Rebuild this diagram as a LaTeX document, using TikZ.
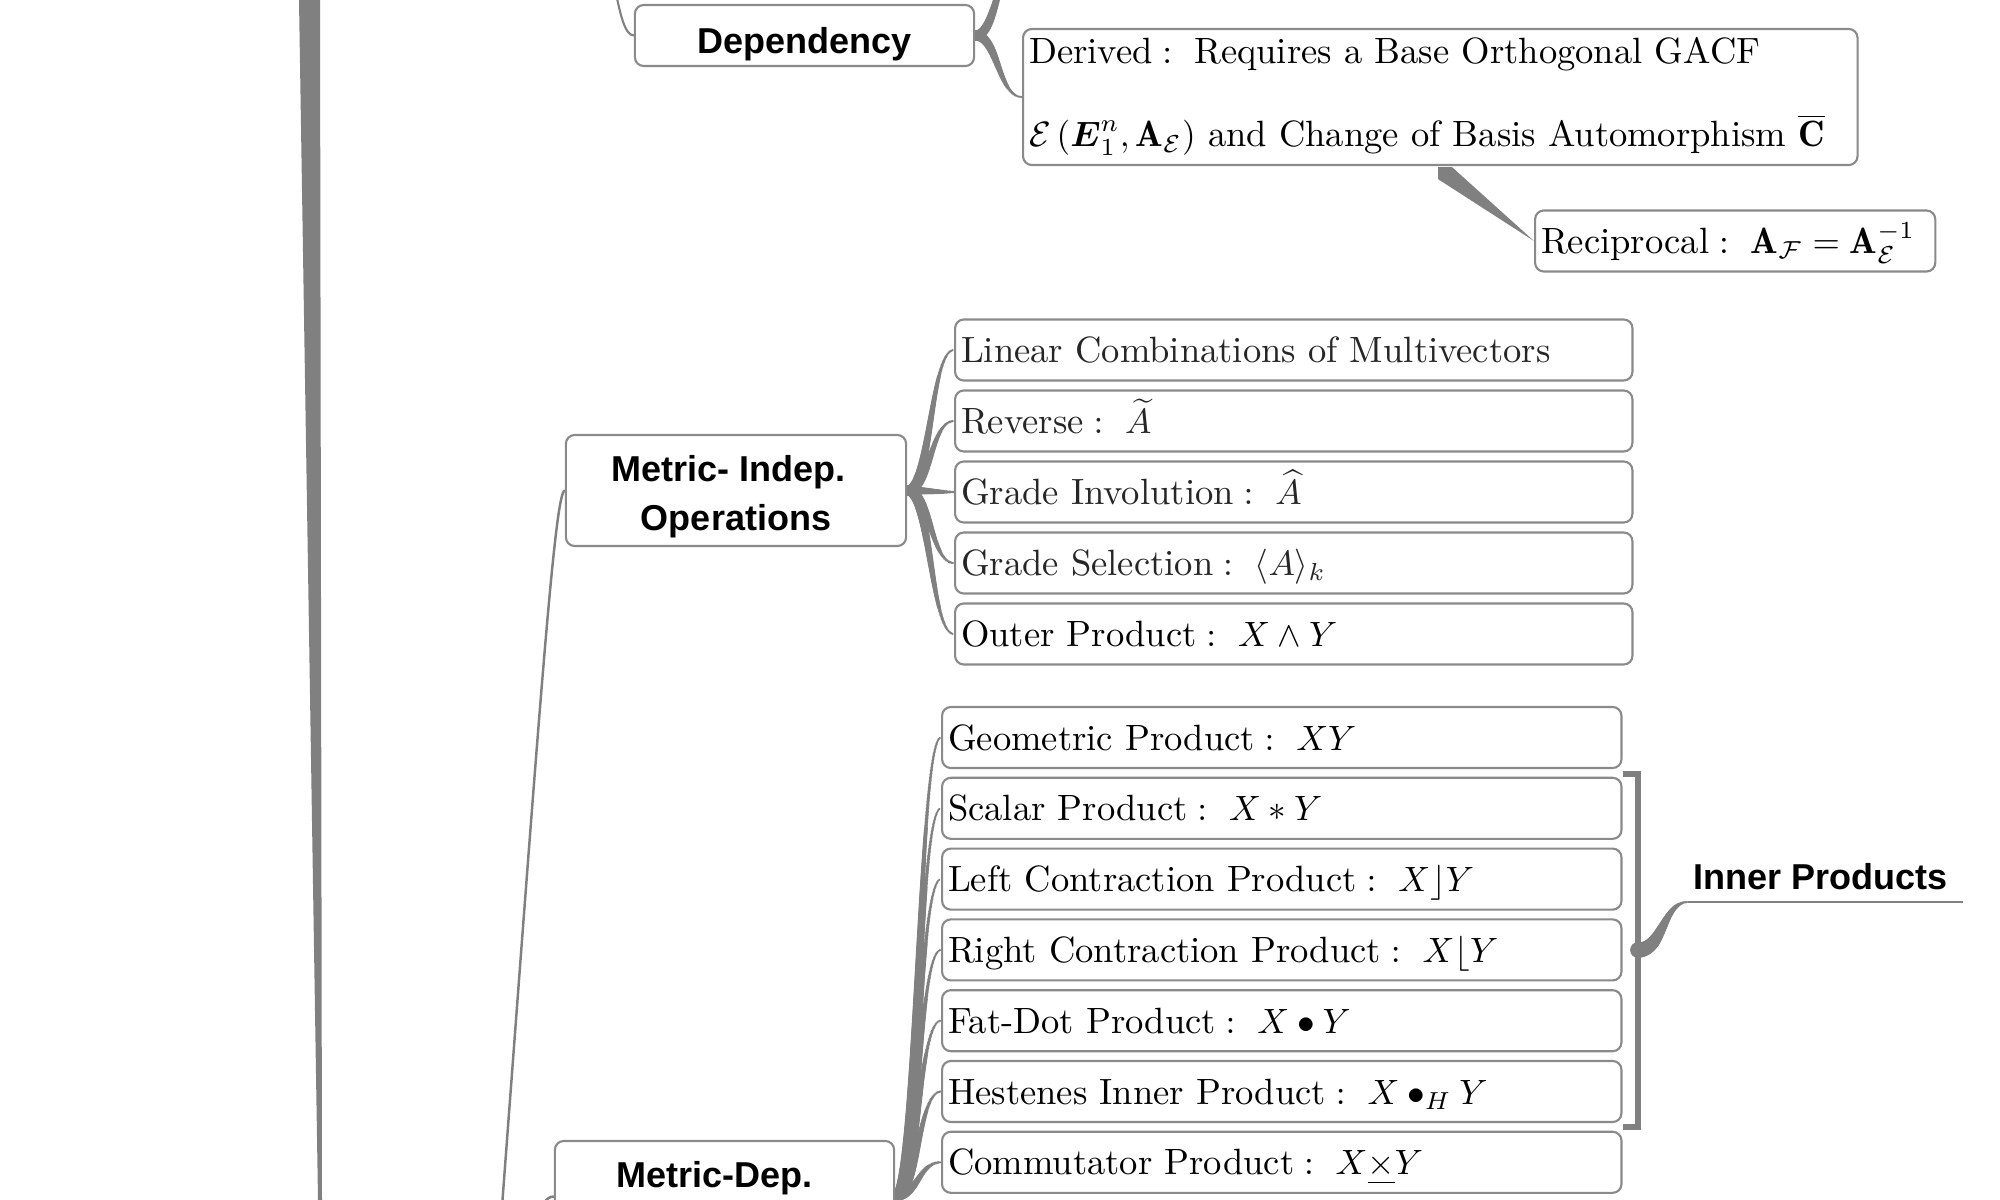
\documentclass[tikz,border=0pt]{standalone}
\usepackage{amsmath}
\usepackage{fontspec}
\newfontfamily\headfont{Liberation Sans}
\usetikzlibrary{calc,decorations.markings}
\pgfdeclarelayer{background}
\pgfsetlayers{background,main}

\definecolor{linegray}{HTML}{808080}
\definecolor{boxgray}{HTML}{8A8A8A}

\newcommand\opline[2]{$\text{#1}:\ #2$}

\tikzset{
  topic/.style={draw=boxgray, line width=0.6pt, rounded corners=2.5pt, fill=white,
    font=\headfont\bfseries\fontsize{10.24pt}{13.66pt}\selectfont,
    align=center, inner sep=0pt, text height=2.6mm},
  leaf/.style={draw=boxgray, line width=0.6pt, rounded corners=2.5pt, fill=white,
    font=\fontsize{10.4pt}{12.5pt}\selectfont, anchor=west, align=left,
    text width=#1, inner xsep=0.6mm, inner ysep=0pt, minimum height=6.1mm,
    text height=3.4mm, text depth=0.9mm},
  branch/.style 2 args={postaction={decorate}, decoration={markings,
      mark=between positions 0 and 1 step 0.4pt with {
        \pgfmathsetmacro\brw{(#1+(#2-#1)*\pgfkeysvalueof{/pgf/decoration/mark info/distance from start}/\pgfdecoratedpathlength)/2}
        \fill[linegray] (0,0) circle (\brw pt);}}},
}

\begin{document}
\begin{tikzpicture}[x=0.01cm, y=-0.01cm]
    \useasboundingbox (0,0) rectangle (2000,1200);

    % Dependency
    \node[topic, minimum width=3.39cm, minimum height=6.1mm, text height=3.5mm, text depth=0mm] (dependency) at (804.5,35.5) {Dependency};
    \node[leaf=8.22cm, font=\fontsize{10.4pt}{23.6pt}\selectfont, minimum height=1.36cm, text height=2.8mm, text depth=9.4mm] (derived) at (1022,97)
        {\opline{Derived}{\text{Requires a Base Orthogonal GACF}}\\
         $\mathcal{E}\left(\boldsymbol{E}_1^n,\mathbf{A}_{\mathcal{E}}\right)$ and Change of Basis Automorphism $\overline{\mathbf{C}}$};
    \node[leaf=3.88cm] (recip) at (1534,241) {\opline{Reciprocal}{\mathbf{A}_{\mathcal{F}}=\mathbf{A}_{\mathcal{E}}^{-1}}};

    % Metric-independent operations
    \node[topic, minimum width=3.4cm, minimum height=1.11cm, text height=7.9mm, text depth=0mm] (indep) at (736,490.5) {Metric- Indep.\hspace*{0.15cm}\\Operations};
    \foreach \lbl/\col [count=\i] in {{Linear Combinations of Multivectors}/black!85,
            {\opline{Reverse}{\widetilde{A}}}/black!85,
            {\opline{Grade Involution}{\widehat{A}}}/black!85,
            {\opline{Grade Selection}{\langle A\rangle_k}}/black!85,
            {\opline{Outer Product}{X\wedge Y}}/black}
        \node[leaf=6.65cm, text=\col] (ind\i) at (954,{279+71*\i}) {\lbl};

    % Metric-dependent operations
    \node[topic, minimum width=3.39cm, minimum height=1.11cm, text depth=4.5mm] (dep) at (724.5,1196.5) {Metric-Dep.\hspace*{0.2cm}};
    \foreach \lbl [count=\i] in {{\opline{Geometric Product}{XY}},
            {\opline{Scalar Product}{X*Y}},
            {\opline{Left Contraction Product}{X\rfloor Y}},
            {\opline{Right Contraction Product}{X\lfloor Y}},
            {\opline{Fat-Dot Product}{X\bullet Y}},
            {\opline{Hestenes Inner Product}{X\bullet_H Y}},
            {\opline{Commutator Product}{X\underline{\times}Y}}}
        \node[leaf=6.67cm] (prod\i) at (941,{666.7+70.8*\i}) {\lbl};

    % Inner products
    \draw[linegray, line width=1.6pt] (1623,774) -- (1638,774) -- (1638,1127) -- (1623,1127);
    \node[font=\headfont\bfseries\fontsize{10.24pt}{12pt}\selectfont, anchor=base, inner sep=0pt] (inner) at (1820.5,889) {Inner Products};
    \coordinate (brace) at (1638,950);
    \coordinate (innerL) at (1688,902);
    \coordinate (innerR) at (1963,902);

    % free ends of branches leaving the picture
    \coordinate (top) at (595,-60);
    \coordinate (upper) at (1020,-40);
    \coordinate (low1) at (498,1260);
    \coordinate (low2) at (515,1320);

    \begin{pgfonlayer}{background}
        \fill[white] (0,0) rectangle (2000,1200);
        \clip (0,0) rectangle (2000,1200);

        % trunk
        \fill[linegray] (299,0) -- (320,0) -- (322,1200) -- (318,1200) -- cycle;

        \draw[linegray, line width=0.6pt] (top) .. controls (615,-60) and (615,35.5) .. (dependency.west);
        \path[branch={3}{0.8}] (dependency.east) .. controls (997,35.5) and (997,-40) .. (upper);
        \path[branch={3}{0.6}] (dependency.east) .. controls (998,35.5) and (998,97) .. (derived.west);
        \fill[linegray] ($(derived.south west)+(416,1)$) -- ++(14,0) -- (recip.west) -- ($(derived.south west)+(416,13)$) -- cycle;

        \draw[linegray, line width=0.7pt] (low1) .. controls (540,700) and (555,490.5) .. (indep.west);
        \draw[linegray, line width=0.7pt] (low2) .. controls (535,1230) and (538,1196.5) .. (dep.west);

        \foreach \i in {1,...,5}
            \path[branch={2.8}{0.7}] (indep.east) .. controls ($(indep.east)!0.5!(indep.east -| ind\i.west)$) and ($(ind\i.west)!0.5!(ind\i.west -| indep.east)$) .. (ind\i.west);
        \foreach \i in {1,...,7}
            \path[branch={2.8}{0.7}] (dep.east) .. controls ($(dep.east)!0.5!(dep.east -| prod\i.west)$) and ($(prod\i.west)!0.5!(prod\i.west -| dep.east)$) .. (prod\i.west);

        \path[branch={4.5}{0.6}] (brace) .. controls (1663,950) and (1663,902) .. (innerL);
        \draw[linegray, line width=0.6pt] (innerL) -- (innerR);
    \end{pgfonlayer}
\end{tikzpicture}
\end{document}
